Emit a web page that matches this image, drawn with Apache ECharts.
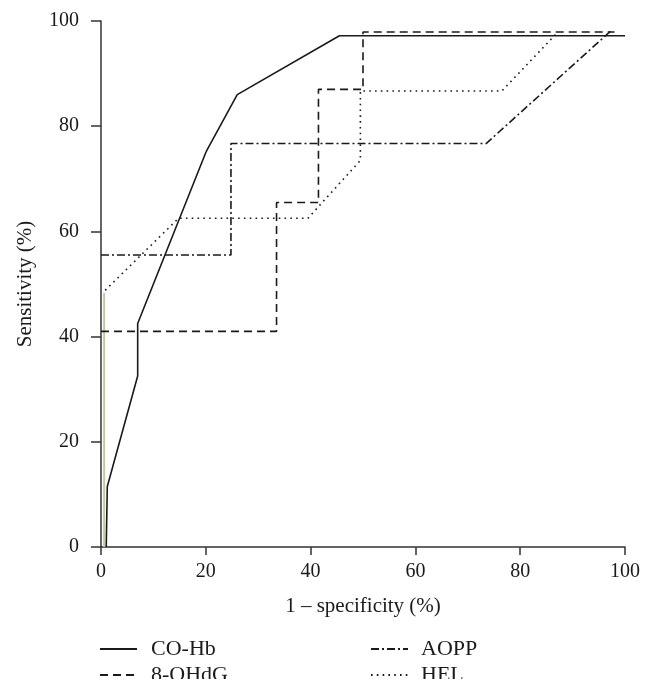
<!DOCTYPE html>
<html>
<head>
<meta charset="utf-8">
<script src="https://cdn.jsdelivr.net/npm/echarts@6/dist/echarts.min.js"></script>
<style>
html,body{margin:0;padding:0;background:#fff;}
#chart{width:654px;height:695px;}
</style>
</head>
<body>
<div id="chart"></div>
<script>
// Data (1 - specificity %, sensitivity %)
var seriesNames = ["CO-Hb", "8-OHdG", "AOPP", "HEL"];
var coHb = [[1,0],[1.2,11.5],[7,32.5],[7,42.5],[20,75],[20.4,75.8],[26,86],[45.5,97.2],[100,97.2]];
var ohdg = [[0,41],[33.5,41],[33.5,65.5],[41.5,65.5],[41.5,87],[50,87],[50,97.9],[98,97.9]];
var aopp = [[0,55.5],[24.8,55.5],[24.8,76.7],[73.5,76.7],[97.5,98.3]];
var hel = [[0.8,48.8],[14.8,62.5],[39.5,62.5],[49.5,73.5],[49.5,86.7],[76.5,86.7],[87,97.7]];
var helStem = [[0.6,0],[0.6,48.3]];
var xTicks = [0,20,40,60,80,100];
var yTicks = [0,20,40,60,80,100];

var font = "'Liberation Serif', 'DejaVu Serif', serif";
var ink = '#1a1a1a';

function lineSeries(name, data, type, width){
  return {
    name: name, type: 'line', data: data, symbol: 'none', smooth: false,
    lineStyle: {color: ink, width: width, type: type},
    itemStyle: {color: ink},
    z: 3, animation: false
  };
}

function legendCol(names, left, gapPad){
  return {
    data: names, orient: 'vertical', left: left, top: 638, padding: 0,
    itemWidth: 37, itemHeight: 14, itemGap: 4,
    itemStyle: {opacity: 0},
    textStyle: {fontFamily: font, fontSize: 22, color: ink, padding: [0,0,0,gapPad]}
  };
}

var chart = echarts.init(document.getElementById('chart'), null, {renderer: 'canvas'});
var option = {
  backgroundColor: '#fff',
  animation: false,
  grid: {left: 101, right: 29, top: 21, bottom: 148},
  xAxis: {
    type: 'value', min: xTicks[0], max: xTicks[xTicks.length-1], interval: 20,
    name: '1 \u2013 specificity (%)', nameLocation: 'middle', nameGap: 49,
    nameTextStyle: {fontFamily: font, fontSize: 21, color: ink},
    axisLine: {lineStyle: {color: '#333', width: 1.5}},
    axisTick: {length: 8, lineStyle: {color: '#333', width: 1.5}},
    axisLabel: {fontFamily: font, fontSize: 20, color: ink, margin: 15},
    splitLine: {show: false}
  },
  yAxis: {
    type: 'value', min: yTicks[0], max: yTicks[yTicks.length-1], interval: 20,
    name: 'Sensitivity (%)', nameLocation: 'middle', nameGap: 65,
    nameTextStyle: {fontFamily: font, fontSize: 21, color: ink},
    axisLine: {lineStyle: {color: '#333', width: 1.5}},
    axisTick: {length: 10, lineStyle: {color: '#333', width: 1.5}},
    axisLabel: {fontFamily: font, fontSize: 20, color: ink, margin: 22},
    splitLine: {show: false}
  },
  legend: [
    legendCol([seriesNames[0], seriesNames[1]], 99, 9),
    legendCol([seriesNames[2], seriesNames[3]], 370, 8)
  ],
  graphic: [{
    type: 'rect', left: 0, top: 679, shape: {width: 654, height: 16},
    style: {fill: '#fff'}, z: 100
  }],
  series: [
    lineSeries(seriesNames[0], coHb, 'solid', 1.6),
    lineSeries(seriesNames[1], ohdg, [8,5], 1.6),
    lineSeries(seriesNames[2], aopp, [8,3,2,3], 1.6),
    lineSeries(seriesNames[3], hel, [1.6,4.2], 1.6),
    {
      name: 'stem', type: 'line', data: helStem, symbol: 'none',
      lineStyle: {color: '#c8c4a6', width: 2}, z: 2, animation: false
    }
  ]
};
chart.setOption(option);
</script>
</body>
</html>
